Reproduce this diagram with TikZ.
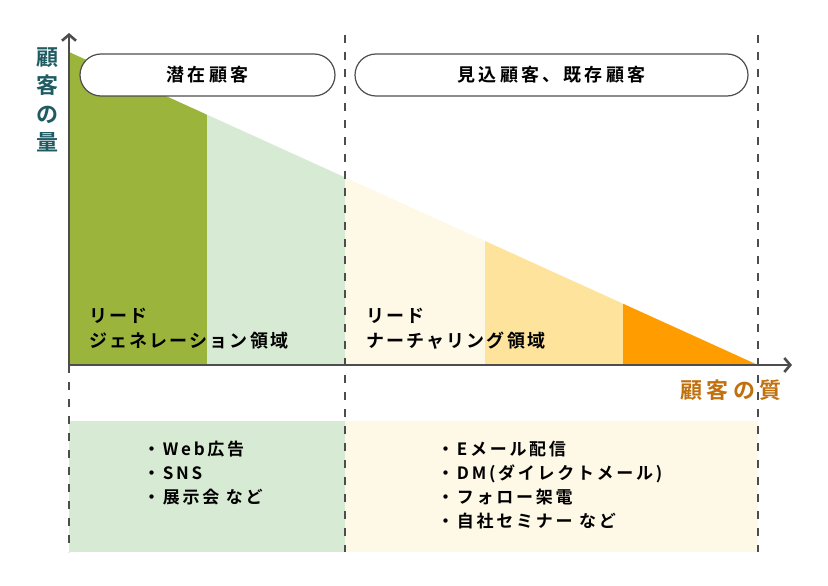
\documentclass[tikz,border=0pt]{standalone}
\usepackage{fontspec}
\usepackage{tikz}
\usetikzlibrary{arrows.meta}
\newfontfamily\jp{Noto Sans CJK JP}[BoldFont={Noto Sans CJK JP Bold}]
\definecolor{leafgreen}{HTML}{9BB43B}
\definecolor{mintgreen}{HTML}{D7EAD3}
\definecolor{creamyellow}{HTML}{FEF8E6}
\definecolor{sandyellow}{HTML}{FEE39C}
\definecolor{deeporange}{HTML}{FF9C00}
\definecolor{axisgray}{HTML}{4D4D4D}
\definecolor{tealtext}{HTML}{1E5B62}
\definecolor{browntext}{HTML}{C1700E}
\tikzset{
  axis/.style={draw=axisgray,line width=2.6pt,-{Straight Barb[length=6pt,width=14pt]}},
  guide/.style={draw=axisgray,line width=2.8pt,dash pattern=on 8pt off 9pt},
  pill/.style={draw=axisgray,line width=1.2pt,fill=white,rounded corners=21pt,minimum height=42pt,
    font=\jp\bfseries\addfontfeature{LetterSpace=18}\fontsize{18}{20}\selectfont},
  arealabel/.style={anchor=west,align=left,inner sep=0pt,
    font=\jp\bfseries\addfontfeature{LetterSpace=12}\fontsize{18}{25}\selectfont},
  listlabel/.style={anchor=north west,align=left,inner sep=0pt,
    font=\jp\bfseries\addfontfeature{LetterSpace=16}\fontsize{17}{24}\selectfont},
  axislabel/.style={align=center,inner sep=0pt,
    font=\jp\bfseries\addfontfeature{LetterSpace=20}\fontsize{22}{28.5}\selectfont}
}
\begin{document}
\begin{tikzpicture}[x=1pt,y=-1pt]
\useasboundingbox (0,0) rectangle (828,586);
%coordinates
\coordinate (O) at (69,365);
\coordinate (ytop) at (69,33);
\coordinate (xend) at (792,365);
\coordinate (peak) at (69,52);
\coordinate (tail) at (758,365);
%volume
\begin{scope}
\clip (peak)--(tail)--(O)--cycle;
\fill[leafgreen] (69,0) rectangle (207,365);
\fill[mintgreen] (207,0) rectangle (345,365);
\fill[creamyellow] (345,0) rectangle (485,365);
\fill[sandyellow] (485,0) rectangle (623,365);
\fill[deeporange] (623,0) rectangle (758,365);
\end{scope}
%tool boxes
\fill[mintgreen] (69,421) rectangle (345,552);
\fill[creamyellow] (345,421) rectangle (758,552);
%guides
\coordinate (g1a) at (69,365);  \coordinate (g1b) at (69,552);
\coordinate (g2a) at (345,35);  \coordinate (g2b) at (345,552);
\coordinate (g3a) at (758,35);  \coordinate (g3b) at (758,552);
\draw[guide] (g1a)--(g1b);
\draw[guide] (g2a)--(g2b);
\draw[guide] (g3a)--(g3b);
%axes
\draw[axis] (O)--(ytop);
\draw[axis] (O)--(xend);
\node[axislabel,text=tealtext] (ylab) at (47,100) {顧\\客\\の\\量};
\node[axislabel,text=browntext] (xlab) at (731,390) {顧客の質};
%phases
\node[pill,minimum width=255pt] (potential) at (207.5,75) {潜在顧客};
\node[pill,minimum width=393pt] (prospect) at (551.5,75) {見込顧客、既存顧客};
%labels
\node[arealabel] (genlab) at (89,329) {リード\\ジェネレーション領域};
\node[arealabel] (nurlab) at (366,329) {リード\\ナーチャリング領域};
\node[listlabel] (genlist) at (143,441) {・Web広告\\・SNS\\・展示会 など};
\node[listlabel] (nurlist) at (437,441) {・Eメール配信\\・DM(ダイレクトメール)\\・フォロー架電\\・自社セミナー など};
\end{tikzpicture}
\end{document}
